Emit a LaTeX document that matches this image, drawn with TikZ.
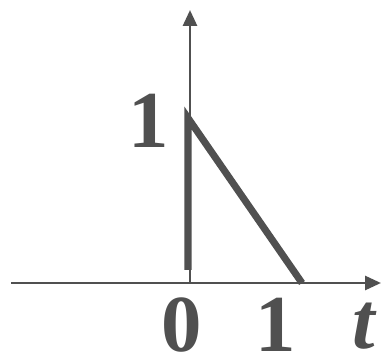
\documentclass[tikz,border=0pt]{standalone}
\usepackage{fontspec}
\setmainfont{Liberation Serif}
\usepackage{tikz}
\usetikzlibrary{positioning, arrows.meta}
\definecolor{inkgray}{HTML}{505050}

\begin{document}
\begin{tikzpicture}[
        x=0.02cm, y=-0.02cm,
        axis/.style={-{Triangle[length=0.32cm, width=0.28cm]}, draw=inkgray, line width=1.6pt},
        signal/.style={draw=inkgray, line width=4pt, line join=miter},
        lbl/.style={inner sep=0pt, text=inkgray, font=\fontsize{46}{46}\selectfont\bfseries}
    ]

    \useasboundingbox (0,0) rectangle (382,361);

    \coordinate (xstart) at (11,283);
    \coordinate (xend) at (381,283);
    \coordinate (origin) at (190,283);
    \coordinate (yend) at (190,10);
    \coordinate (base) at (188,270);
    \coordinate (peak) at (188,118);
    \coordinate (zero) at (302,283);

    \draw[axis] (xstart) -- (xend);
    \draw[axis] (origin) -- (yend);
    \draw[signal] (base) -- (peak) -- (zero);

    \node[lbl] (one) at (149,121) {1};
    \node[lbl] (tzero) at (182,325) {0};
    \node[lbl] (tone) at (276,325) {1};
    \node[lbl, font=\fontsize{46}{46}\selectfont\bfseries\itshape] (tvar) at (364,326) {t};

\end{tikzpicture}
\end{document}
